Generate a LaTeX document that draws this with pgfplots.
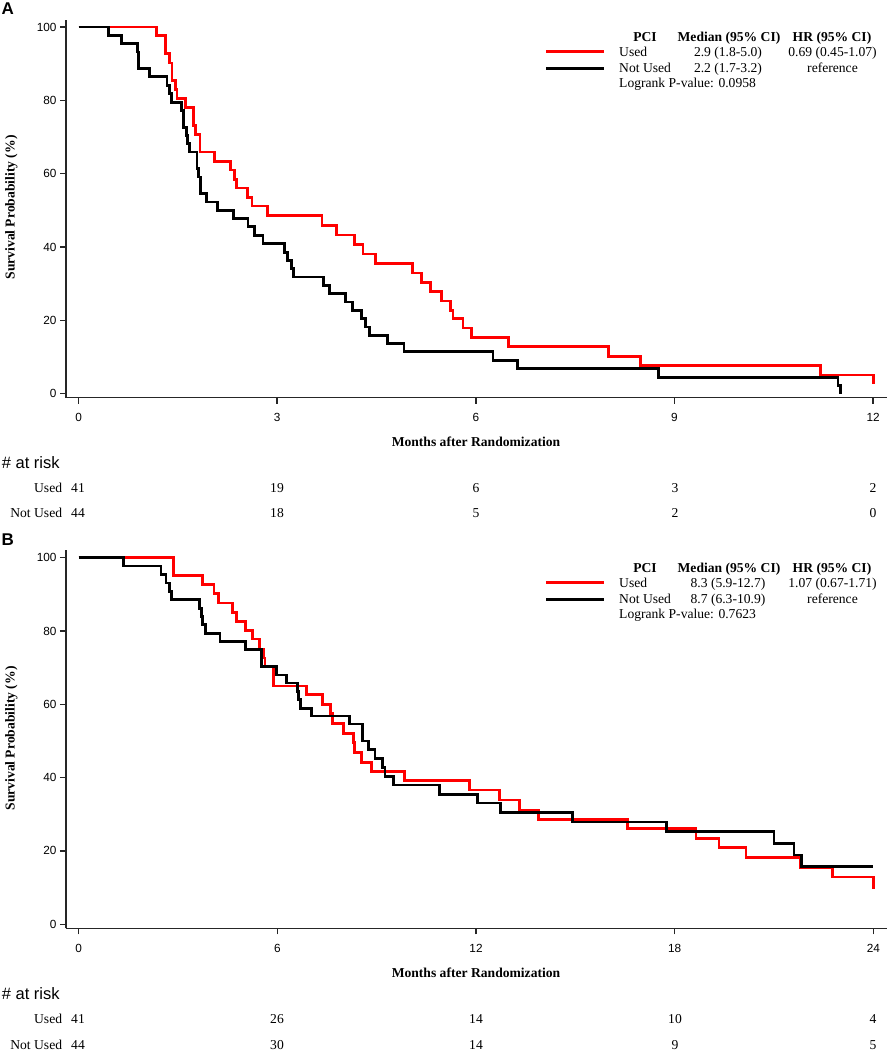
\documentclass[border=0pt]{standalone}
\usepackage{pgfplots}
\pgfplotsset{compat=1.18}
\usepackage{fontspec}
\setmainfont{Liberation Serif}
\newfontfamily\arial{Liberation Sans}

\definecolor{kmred}{RGB}{255,0,0}
\newcommand\lgd{\fontsize{13.6}{15}\selectfont}

\pgfplotsset{
  kmaxis/.style={
    scale only axis,
    width=821pt, height=378pt,
    axis lines*=left,
    axis line style={line width=1.5pt, black!85},
    tick align=outside,
    major tick length=6pt,
    tick style={line width=1.5pt, black!85},
    ymin=-1.1, ymax=102,
    ytick={0,20,40,60,80,100},
    ticklabel style={font=\arial\fontsize{11.8}{12}\selectfont},
    xticklabel style={yshift=-6.5pt},
    /pgf/number format/assume math mode=true,
  },
  used/.style={const plot, kmred, line width=2.8pt, mark=none},
  notused/.style={const plot, black, line width=2.8pt, mark=none},
}

\begin{document}
\begin{tikzpicture}
\path[use as bounding box] (0,0) rectangle (887pt,1050pt);

% ---------------- panel A
\begin{axis}[kmaxis, at={(66pt,652.3pt)}, anchor=south west,
  xmin=-0.19, xmax=12.21, xtick={0,3,6,9,12}]
\addplot[used] coordinates {
 (0,100) (1.18,97.6) (1.31,92.7) (1.375,90.2) (1.41,85.4) (1.465,82.9)
 (1.485,80.5) (1.61,78.0) (1.737,73.2) (1.762,70.7) (1.835,65.9)
 (2.054,63.4) (2.29,61.0) (2.355,58.5) (2.39,56.1) (2.548,53.6)
 (2.618,51.2) (2.85,48.6) (3.676,45.9) (3.892,43.3) (4.169,40.7)
 (4.295,38.1) (4.486,35.5) (5.04,32.9) (5.176,30.4) (5.312,27.8)
 (5.478,25.3) (5.619,22.7) (5.654,20.6) (5.806,17.9) (5.935,15.3)
 (6.49,12.9) (8.0,10.2) (8.49,7.6) (11.21,5.1) (12.0,2.6)
};
\addplot[notused] coordinates {
 (0,100) (0.453,97.7) (0.645,95.5) (0.886,93.2) (0.906,88.6) (1.067,86.4)
 (1.334,84.1) (1.375,81.8) (1.40,79.5) (1.55,77.3) (1.59,72.7)
 (1.627,70.5) (1.65,68.2) (1.677,65.9) (1.79,61.4) (1.81,59.1)
 (1.84,54.5) (1.93,52.3) (2.095,50.0) (2.34,47.7) (2.558,45.5)
 (2.659,43.2) (2.784,40.9) (3.11,38.6) (3.16,36.4) (3.21,34.1)
 (3.24,31.8) (3.70,29.5) (3.79,27.3) (4.03,25.0) (4.134,22.7)
 (4.27,20.5) (4.335,18.2) (4.396,15.9) (4.663,13.6) (4.914,11.4)
 (6.26,9.0) (6.63,6.8) (8.76,4.5) (11.47,2.3) (11.51,0)
};
\end{axis}

% ---------------- panel B
\begin{axis}[kmaxis, at={(66pt,121.7pt)}, anchor=south west,
  xmin=-0.38, xmax=24.41, xtick={0,6,12,18,24}]
\addplot[used] coordinates {
 (0,100) (2.864,95.1) (3.75,92.6) (4.09,90.2) (4.22,87.6) (4.64,85.1)
 (4.77,82.6) (5.05,80.1) (5.26,77.8) (5.46,75.1) (5.60,72.6) (5.63,70.3)
 (5.88,65.0) (6.88,62.6) (7.36,60.0) (7.61,57.4) (7.66,54.8) (7.99,52.1)
 (8.29,49.6) (8.34,46.9) (8.54,44.2) (8.85,41.6) (9.83,39.2) (11.81,36.6)
 (12.71,33.9) (13.31,31.1) (13.88,28.6) (16.58,26.1) (18.64,23.4)
 (19.34,20.9) (20.15,18.2) (21.81,15.4) (22.76,12.9) (24.0,9.7)
};
\addplot[notused] coordinates {
 (0,100) (1.36,97.7) (2.49,95.4) (2.64,93.1) (2.74,90.8) (2.81,88.5)
 (3.65,86.2) (3.70,84.0) (3.75,81.7) (3.84,79.4) (4.27,77.1) (5.03,75.0)
 (5.53,70.3) (5.98,68.0) (6.28,65.8) (6.61,63.5) (6.65,61.2) (6.71,58.9)
 (7.04,56.8) (8.18,54.6) (8.57,50.0) (8.75,47.7) (8.95,45.3) (9.17,42.8)
 (9.25,40.4) (9.50,38.0) (10.89,35.5) (12.04,33.1) (12.75,30.4)
 (14.91,27.9) (17.74,25.2) (21.0,22.0) (21.6,18.9) (21.84,15.7) (24.0,15.7)
};
\end{axis}

% ---------------- texts, panel A and B (B shifted down by 531pt)
\foreach \dy/\lab/\med/\medb/\hr/\pv/\ua/\ub/\uc/\ud/\na/\nb/\nc/\nd in
  {0/A/2.9 (1.8-5.0)/2.2 (1.7-3.2)/0.69 (0.45-1.07)/0.0958/19/6/3/2/18/5/2/0,
   531/B/8.3 (5.9-12.7)/8.7 (6.3-10.9)/1.07 (0.67-1.71)/0.7623/26/14/10/4/30/14/9/5}{
  \begin{scope}[yshift=-\dy pt]
  \node[anchor=base west, inner sep=0, font=\arial\bfseries\fontsize{17}{17}\selectfont]
    at (1.5pt,1035pt) {\lab};
  % legend
  \node[anchor=base, inner sep=0, font=\lgd\bfseries] at (645pt,1008.3pt) {PCI};
  \node[anchor=base, inner sep=0, font=\lgd\bfseries] at (729pt,1008.3pt) {Median (95\% CI)};
  \node[anchor=base, inner sep=0, font=\lgd\bfseries] at (832pt,1008.3pt) {HR (95\% CI)};
  \draw[kmred, line width=2.8pt] (546pt,998.3pt) -- (604pt,998.3pt);
  \draw[black, line width=2.8pt] (546pt,981.7pt) -- (604pt,981.7pt);
  \node[anchor=base west, inner sep=0, font=\lgd] at (619pt,993.3pt) {Used};
  \node[anchor=base west, inner sep=0, font=\lgd] at (619pt,977.3pt) {Not Used};
  \node[anchor=base, inner sep=0, font=\lgd] at (728pt,993.3pt) {\med};
  \node[anchor=base, inner sep=0, font=\lgd] at (728pt,977.3pt) {\medb};
  \node[anchor=base, inner sep=0, font=\lgd] at (832.5pt,993.3pt) {\hr};
  \node[anchor=base, inner sep=0, font=\lgd] at (832.5pt,977.3pt) {reference};
  \node[anchor=base west, inner sep=0, font=\lgd] at (619pt,962.7pt) {Logrank P-value: \pv};
  % axis titles
  \node[anchor=base, inner sep=0, font=\lgd\bfseries] at (476pt,603.7pt) {Months after Randomization};
  \node[anchor=base, inner sep=0, rotate=90, font=\lgd\bfseries] at (14.5pt,842.5pt) {Survival Probability (\%)};
  % number at risk
  \node[anchor=base west, inner sep=0, font=\arial\fontsize{16.5}{17}\selectfont] at (1.7pt,581pt) {\# at risk};
  \node[anchor=base east, inner sep=0, font=\lgd] at (62.3pt,557pt) {Used};
  \node[anchor=base east, inner sep=0, font=\lgd] at (62.3pt,532pt) {Not Used};
  \node[anchor=base, inner sep=0, font=\lgd] at (78pt,557pt) {41};
  \node[anchor=base, inner sep=0, font=\lgd] at (277pt,557pt) {\ua};
  \node[anchor=base, inner sep=0, font=\lgd] at (476pt,557pt) {\ub};
  \node[anchor=base, inner sep=0, font=\lgd] at (675pt,557pt) {\uc};
  \node[anchor=base, inner sep=0, font=\lgd] at (873pt,557pt) {\ud};
  \node[anchor=base, inner sep=0, font=\lgd] at (78pt,532pt) {44};
  \node[anchor=base, inner sep=0, font=\lgd] at (277pt,532pt) {\na};
  \node[anchor=base, inner sep=0, font=\lgd] at (476pt,532pt) {\nb};
  \node[anchor=base, inner sep=0, font=\lgd] at (675pt,532pt) {\nc};
  \node[anchor=base, inner sep=0, font=\lgd] at (873pt,532pt) {\nd};
  \end{scope}
}
\end{tikzpicture}
\end{document}
